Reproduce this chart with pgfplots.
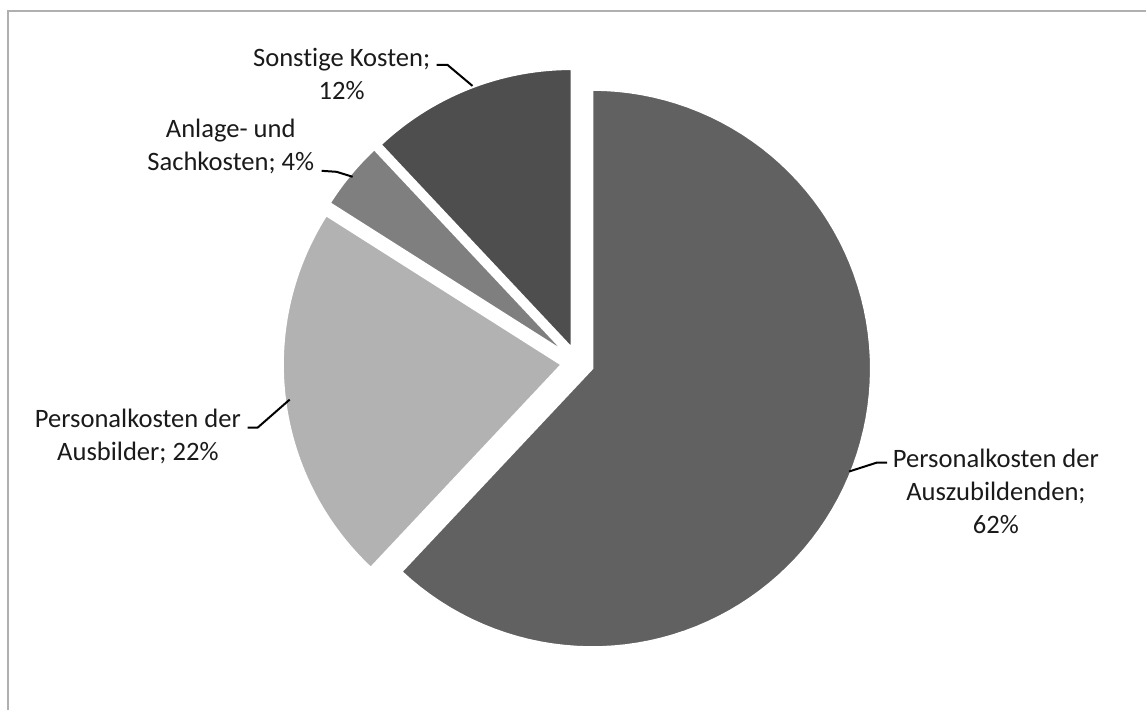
\documentclass[border=0pt]{standalone}
\usepackage{pgfplots}
\pgfplotsset{compat=1.18}
\usepackage{fontspec}
\setmainfont{Carlito}[Ligatures=NoCommon]

\definecolor{sliceA}{HTML}{616161}
\definecolor{sliceB}{HTML}{B2B2B2}
\definecolor{sliceC}{HTML}{7F7F7F}
\definecolor{sliceD}{HTML}{4E4E4E}
\definecolor{framegray}{HTML}{B0B0B0}
\definecolor{txt}{HTML}{1A1A1A}

\tikzset{lbl/.style={font=\fontsize{13.3}{16.5}\selectfont, text=txt, align=center, inner sep=0pt}}

% one exploded slice: #1 start share (%), #2 end share (%), #3 colour
% pie centre (578,363) px, radius 279 px, explode 16 px, clockwise from 12 o'clock
\newcommand\pieslice[3]{%
  \pgfmathsetmacro\pmid{90-1.8*(#1+#2)}%
  \pgfmathsetmacro\cx{578+16*cos(\pmid)}%
  \pgfmathsetmacro\cy{363-16*sin(\pmid)}%
  \edef\doslice{\noexpand\addplot[fill=#3, draw=white, line width=1pt, domain=#1:#2, samples=90]
    ({\cx+279*cos(90-3.6*x)}, {\cy-279*sin(90-3.6*x)}) -- (axis cs:\cx,\cy) -- cycle;}%
  \doslice}

\begin{document}
\begin{tikzpicture}
\begin{axis}[
  width=573.5pt, height=355.5pt, scale only axis,
  xmin=0, xmax=1147, ymin=0, ymax=711, y dir=reverse,
  hide axis, clip=false,
]
\path (axis cs:0,0) rectangle (axis cs:1147,711);
\draw[framegray, line width=1.2pt] (axis cs:8,711) -- (axis cs:8,11) -- (axis cs:1147,11);

% shares: Auszubildende 62, Ausbilder 22, Anlage/Sach 4, Sonstige 12
\pieslice{0}{62}{sliceA}
\pieslice{62}{84}{sliceB}
\pieslice{84}{88}{sliceC}
\pieslice{88}{100}{sliceD}

% leader lines
\addplot[black, line width=1pt] coordinates {(437,65) (448,65) (473,86)};
\addplot[black, line width=1pt] coordinates {(322,171) (337,172) (353,177)};
\addplot[black, line width=1pt] coordinates {(248,428) (258,428) (290,400)};
\addplot[black, line width=1pt] coordinates {(888,463) (878,463) (850,472)};

\node[lbl] at (axis cs:342,74) {Sonstige Kosten;\\12\%};
\node[lbl] at (axis cs:231,146.5) {Anlage- und\\Sachkosten; 4\%};
\node[lbl] at (axis cs:138,436.5) {Personalkosten der\\Ausbilder; 22\%};
\node[lbl] at (axis cs:997,491.5) {Personalkosten der\\Auszubildenden;\\62\%};
\end{axis}
\end{tikzpicture}
\end{document}
